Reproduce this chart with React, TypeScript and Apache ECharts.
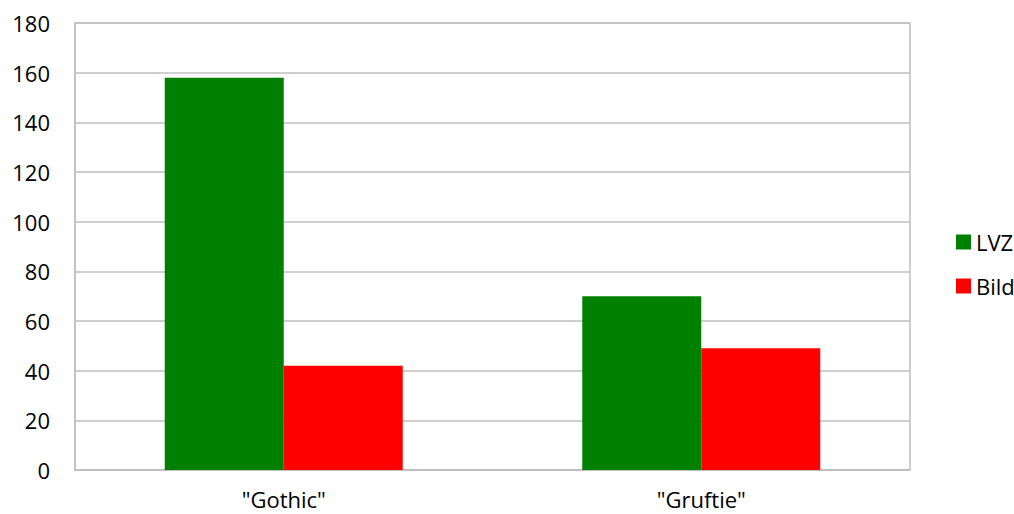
import React, { useEffect, useRef } from "react";
import * as echarts from "echarts";

const categories = ['"Gothic"', '"Gruftie"'];
const lvzValues = [158, 70];
const bildValues = [42, 49];
const yTicks = { min: 0, max: 180, interval: 20 };

export default function App() {
  const ref = useRef<HTMLDivElement>(null);
  useEffect(() => {
    if (!ref.current) return;
    const chart = echarts.init(ref.current, null, { renderer: "svg" });
    const font = "'Open Sans', 'Noto Sans', sans-serif";
    chart.setOption({
      animation: false,
      backgroundColor: "#ffffff",
      textStyle: { fontFamily: font },
      grid: { left: 75, right: 104, top: 23, bottom: 44, containLabel: false, show: true, borderColor: "#bfbfbf", borderWidth: 1.5 },
      legend: {
        orient: "vertical",
        left: 951,
        top: 226,
        itemWidth: 15,
        itemHeight: 15,
        itemGap: 22,
        icon: "rect",
        textStyle: { fontFamily: font, fontSize: 22, color: "#000" },
        data: ["LVZ", "Bild"],
      },
      xAxis: {
        type: "category",
        data: categories,
        axisLine: { show: true, lineStyle: { color: "#bfbfbf", width: 1.5 } },
        axisTick: { show: false },
        axisLabel: { fontFamily: font, fontSize: 22, color: "#000", margin: 18 },
      },
      yAxis: {
        type: "value",
        min: yTicks.min,
        max: yTicks.max,
        interval: yTicks.interval,
        axisLine: { show: true, lineStyle: { color: "#bfbfbf", width: 1.5 } },
        axisTick: { show: false },
        splitLine: { show: true, lineStyle: { color: "#bfbfbf", width: 1.5 } },
        axisLabel: { fontFamily: font, fontSize: 22, color: "#000", margin: 25 },
      },
      series: [
        {
          name: "LVZ",
          type: "bar",
          data: lvzValues,
          itemStyle: { color: "#008000" },
          barGap: "0%",
          barCategoryGap: "43%",
        },
        {
          name: "Bild",
          type: "bar",
          data: bildValues,
          itemStyle: { color: "#ff0000" },
          barGap: "0%",
          barCategoryGap: "43%",
        },
      ],
    });
    return () => chart.dispose();
  }, []);
  return (
    <div
      ref={ref}
      style={{ position: "fixed", left: 0, top: 0, width: 1014, height: 514 }}
    />
  );
}
